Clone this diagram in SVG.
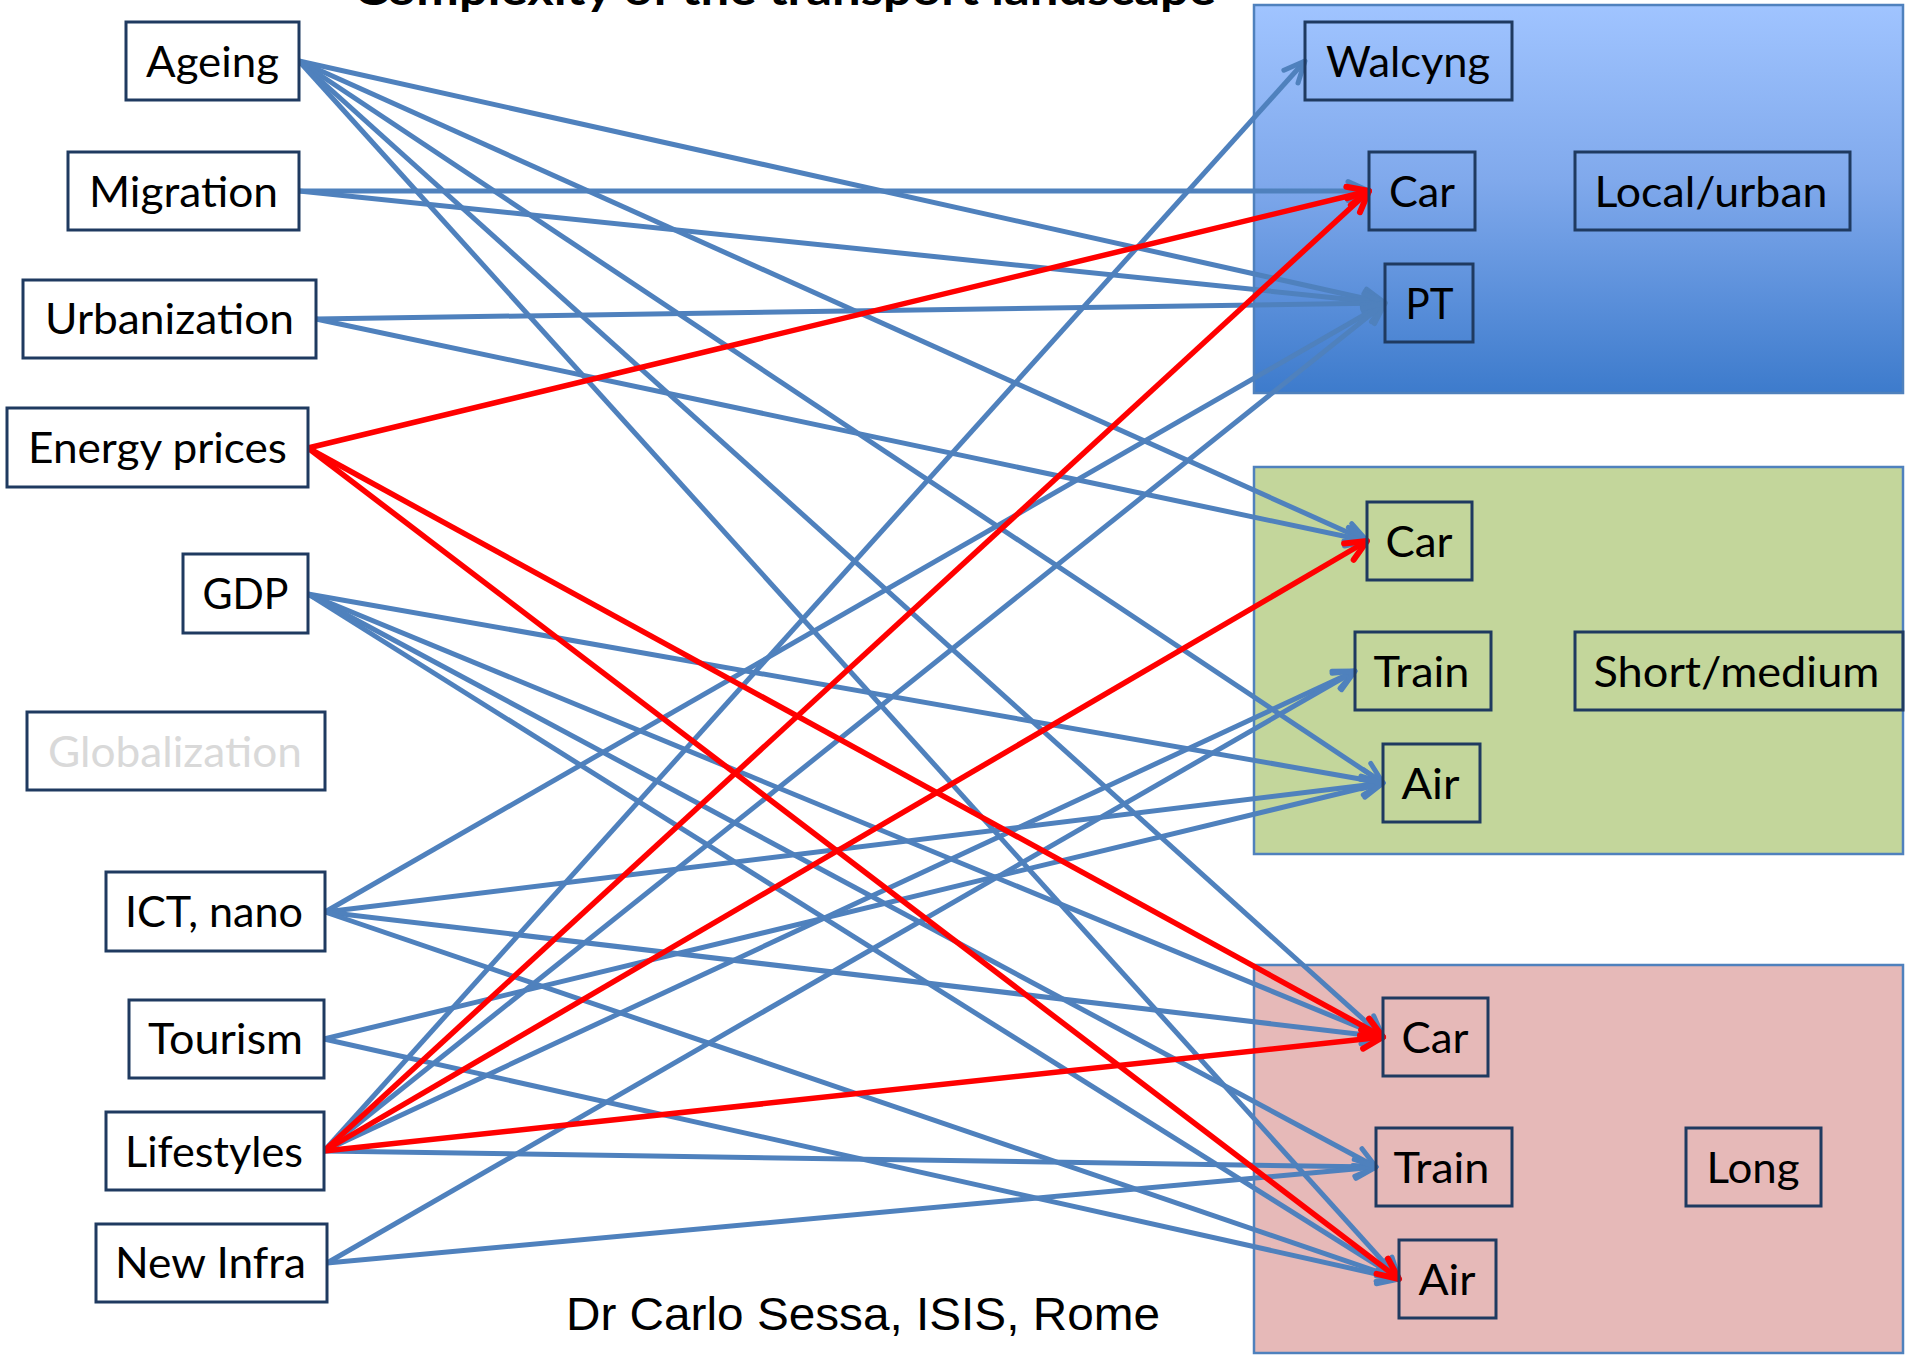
<svg xmlns="http://www.w3.org/2000/svg" width="1912" height="1356" viewBox="0 0 1912 1356">
<defs>
<linearGradient id="gradLocal" x1="0" y1="0" x2="0" y2="1">
<stop offset="0" stop-color="#a0c4ff"/>
<stop offset="0.45" stop-color="#80a9ec"/>
<stop offset="1" stop-color="#3d7bcc"/>
</linearGradient>
<marker id="arrowBlue" markerUnits="userSpaceOnUse" markerWidth="40" markerHeight="40" viewBox="-30 -20 40 40" refX="0" refY="0" orient="auto" overflow="visible">
<path d="M-21,-9.5 L0,0 L-21,9.5" fill="none" stroke="#4f81bd" stroke-width="5" stroke-linecap="round" stroke-linejoin="round"/>
</marker>
<marker id="arrowRed" markerUnits="userSpaceOnUse" markerWidth="40" markerHeight="40" viewBox="-30 -20 40 40" refX="0" refY="0" orient="auto" overflow="visible">
<path d="M-21,-9.5 L0,0 L-21,9.5" fill="none" stroke="#ff0000" stroke-width="6" stroke-linecap="round" stroke-linejoin="round"/>
</marker>
</defs>
<style>
.panel{stroke:#4f81bd;stroke-width:2.5}
.box{fill:#ffffff;stroke:#1f3a60;stroke-width:3}
.rbox{fill:none;stroke:#1f3a60;stroke-width:3}
.lbl{font-family:Lato,"Open Sans","Liberation Sans",sans-serif;font-size:42px;fill:#000000;text-anchor:middle}
.dim{fill:#d9d9d9}
.title{font-family:Lato,"Open Sans","Liberation Sans",sans-serif;font-size:44px;font-weight:bold;fill:#000000}
.credit{font-family:"Liberation Sans",Arial,sans-serif;font-size:46px;fill:#000000}
.blue{stroke:#4f81bd;stroke-width:5;fill:none;marker-end:url(#arrowBlue)}
.red{stroke:#ff0000;stroke-width:5.5;fill:none;marker-end:url(#arrowRed)}
</style>
<rect x="0" y="0" width="1912" height="1356" fill="#ffffff"/>
<text class="title" x="354" y="5" textLength="862" lengthAdjust="spacingAndGlyphs">Complexity of the transport landscape</text>

<g id="panel-local"><rect class="panel" x="1254" y="5" width="649" height="388" fill="url(#gradLocal)"/></g>
<g id="panel-short"><rect class="panel" x="1254" y="467" width="649" height="387" fill="#c3d69b"/></g>
<g id="panel-long"><rect class="panel" x="1254" y="965" width="649" height="388" fill="#e6b9b8"/></g>

<g id="connectors">
<line class="blue" x1="299" y1="61" x2="1385" y2="303"/>
<line class="blue" x1="299" y1="61" x2="1367" y2="541"/>
<line class="blue" x1="299" y1="61" x2="1383" y2="783"/>
<line class="blue" x1="299" y1="61" x2="1383" y2="1037"/>
<line class="blue" x1="299" y1="61" x2="1399" y2="1279"/>
<line class="blue" x1="299" y1="191" x2="1369" y2="191"/>
<line class="blue" x1="299" y1="191" x2="1385" y2="303"/>
<line class="blue" x1="316" y1="319" x2="1385" y2="303"/>
<line class="blue" x1="316" y1="319" x2="1367" y2="541"/>
<line class="blue" x1="308" y1="594" x2="1383" y2="783"/>
<line class="blue" x1="308" y1="594" x2="1383" y2="1037"/>
<line class="blue" x1="308" y1="594" x2="1376" y2="1167"/>
<line class="blue" x1="308" y1="594" x2="1399" y2="1279"/>
<line class="blue" x1="325" y1="912" x2="1385" y2="303"/>
<line class="blue" x1="325" y1="912" x2="1383" y2="783"/>
<line class="blue" x1="325" y1="912" x2="1383" y2="1037"/>
<line class="blue" x1="325" y1="912" x2="1399" y2="1279"/>
<line class="blue" x1="324" y1="1039" x2="1383" y2="783"/>
<line class="blue" x1="324" y1="1039" x2="1399" y2="1279"/>
<line class="blue" x1="324" y1="1151" x2="1305" y2="61"/>
<line class="blue" x1="324" y1="1151" x2="1385" y2="303"/>
<line class="blue" x1="324" y1="1151" x2="1355" y2="671"/>
<line class="blue" x1="324" y1="1151" x2="1376" y2="1167"/>
<line class="blue" x1="327" y1="1263" x2="1355" y2="671"/>
<line class="blue" x1="327" y1="1263" x2="1376" y2="1167"/>
<line class="red" x1="308" y1="448" x2="1369" y2="191"/>
<line class="red" x1="308" y1="448" x2="1383" y2="1037"/>
<line class="red" x1="308" y1="448" x2="1399" y2="1279"/>
<line class="red" x1="324" y1="1151" x2="1369" y2="191"/>
<line class="red" x1="324" y1="1151" x2="1367" y2="541"/>
<line class="red" x1="324" y1="1151" x2="1383" y2="1037"/>
</g>

<g id="node-ageing"><rect class="box" x="126" y="22" width="173" height="78"/><text class="lbl" x="212.5" y="77" textLength="133" lengthAdjust="spacingAndGlyphs">Ageing</text></g>
<g id="node-migration"><rect class="box" x="68" y="152" width="231" height="78"/><text class="lbl" x="183.5" y="207" textLength="189" lengthAdjust="spacingAndGlyphs">Migration</text></g>
<g id="node-urbanization"><rect class="box" x="23" y="280" width="293" height="78"/><text class="lbl" x="169.5" y="334" textLength="249" lengthAdjust="spacingAndGlyphs">Urbanization</text></g>
<g id="node-energy-prices"><rect class="box" x="7" y="408" width="301" height="79"/><text class="lbl" x="157.5" y="463" textLength="259" lengthAdjust="spacingAndGlyphs">Energy prices</text></g>
<g id="node-gdp"><rect class="box" x="183" y="554" width="125" height="79"/><text class="lbl" x="245.5" y="609" textLength="86" lengthAdjust="spacingAndGlyphs">GDP</text></g>
<g id="node-globalization"><rect class="box" x="27" y="712" width="298" height="78"/><text class="lbl dim" x="175" y="767" textLength="254" lengthAdjust="spacingAndGlyphs">Globalization</text></g>
<g id="node-ict-nano"><rect class="box" x="106" y="872" width="219" height="79"/><text class="lbl" x="214" y="927" textLength="178" lengthAdjust="spacingAndGlyphs">ICT, nano</text></g>
<g id="node-tourism"><rect class="box" x="129" y="1000" width="195" height="78"/><text class="lbl" x="225.5" y="1054" textLength="155" lengthAdjust="spacingAndGlyphs">Tourism</text></g>
<g id="node-lifestyles"><rect class="box" x="106" y="1112" width="218" height="78"/><text class="lbl" x="214" y="1167" textLength="178" lengthAdjust="spacingAndGlyphs">Lifestyles</text></g>
<g id="node-new-infra"><rect class="box" x="96" y="1224" width="231" height="78"/><text class="lbl" x="210.5" y="1278" textLength="191" lengthAdjust="spacingAndGlyphs">New Infra</text></g>

<g id="node-walcyng"><rect class="rbox" x="1305" y="22" width="207" height="78"/><text class="lbl" x="1408" y="77" textLength="164" lengthAdjust="spacingAndGlyphs">Walcyng</text></g>
<g id="node-car-local"><rect class="rbox" x="1369" y="152" width="106" height="78"/><text class="lbl" x="1422" y="207" textLength="66" lengthAdjust="spacingAndGlyphs">Car</text></g>
<g id="node-local-urban"><rect class="rbox" x="1575" y="152" width="275" height="78"/><text class="lbl" x="1711" y="207" textLength="233" lengthAdjust="spacingAndGlyphs">Local/urban</text></g>
<g id="node-pt"><rect class="rbox" x="1385" y="264" width="88" height="78"/><text class="lbl" x="1429.5" y="319" textLength="48" lengthAdjust="spacingAndGlyphs">PT</text></g>
<g id="node-car-short"><rect class="rbox" x="1367" y="502" width="105" height="78"/><text class="lbl" x="1419" y="557" textLength="67" lengthAdjust="spacingAndGlyphs">Car</text></g>
<g id="node-train-short"><rect class="rbox" x="1355" y="632" width="136" height="78"/><text class="lbl" x="1421.5" y="687" textLength="96" lengthAdjust="spacingAndGlyphs">Train</text></g>
<g id="node-short-medium"><rect class="rbox" x="1575" y="632" width="328" height="78"/><text class="lbl" x="1736.5" y="687" textLength="286" lengthAdjust="spacingAndGlyphs">Short/medium</text></g>
<g id="node-air-short"><rect class="rbox" x="1383" y="744" width="97" height="78"/><text class="lbl" x="1430.5" y="799" textLength="58" lengthAdjust="spacingAndGlyphs">Air</text></g>
<g id="node-car-long"><rect class="rbox" x="1383" y="998" width="105" height="78"/><text class="lbl" x="1435" y="1053" textLength="67" lengthAdjust="spacingAndGlyphs">Car</text></g>
<g id="node-train-long"><rect class="rbox" x="1376" y="1128" width="136" height="78"/><text class="lbl" x="1441.5" y="1183" textLength="96" lengthAdjust="spacingAndGlyphs">Train</text></g>
<g id="node-long"><rect class="rbox" x="1686" y="1128" width="135" height="78"/><text class="lbl" x="1753" y="1183" textLength="93" lengthAdjust="spacingAndGlyphs">Long</text></g>
<g id="node-air-long"><rect class="rbox" x="1399" y="1240" width="97" height="78"/><text class="lbl" x="1447" y="1295" textLength="57" lengthAdjust="spacingAndGlyphs">Air</text></g>

<text class="credit" x="566" y="1330" textLength="594" lengthAdjust="spacingAndGlyphs">Dr Carlo Sessa, ISIS, Rome</text>
</svg>
